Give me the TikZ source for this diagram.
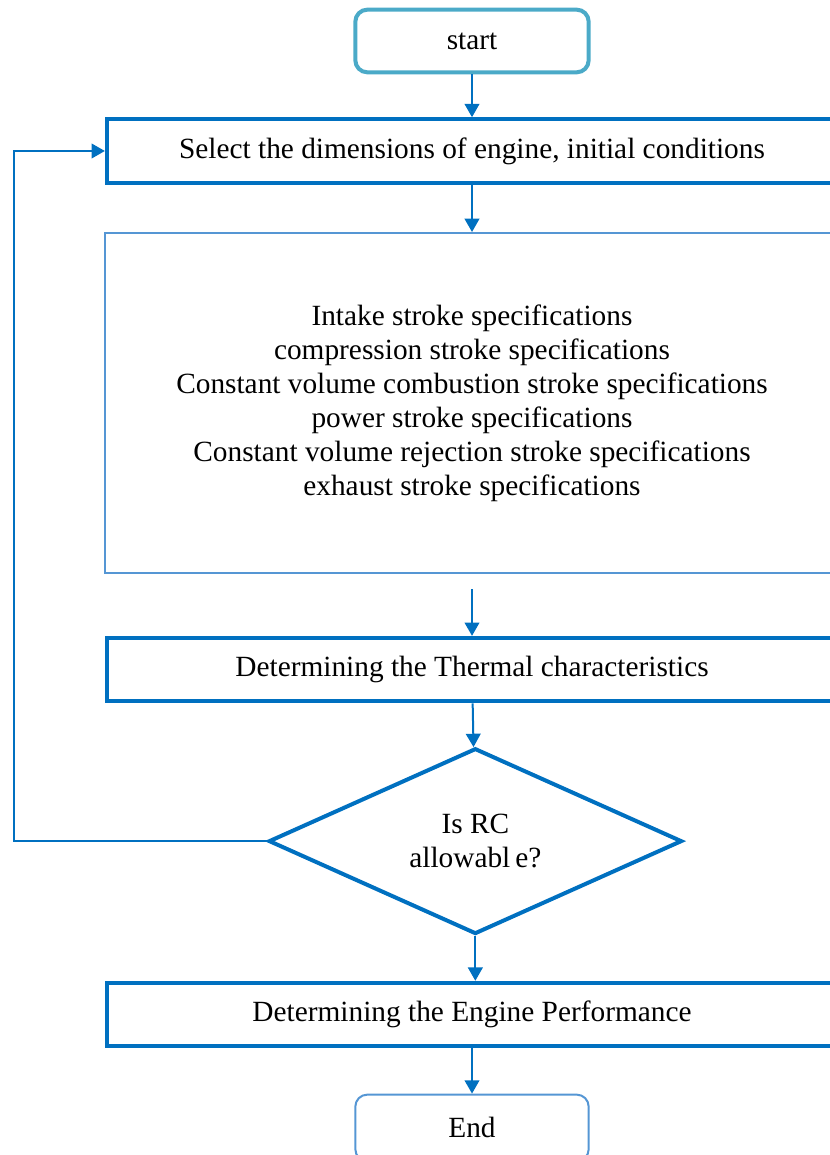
\documentclass[tikz,border=0pt]{standalone}
\usepackage{fontspec}
\setmainfont{Liberation Serif}
\usetikzlibrary{positioning, arrows.meta, shapes.geometric}
\definecolor{cB}{RGB}{0,112,192}
\definecolor{cL}{RGB}{85,150,212}
\definecolor{cA}{RGB}{75,170,200}

\begin{document}
\begin{tikzpicture}[on grid, >={Triangle[width=11pt,length=10pt]},
    font=\fontsize{22pt}{25.5pt}\selectfont,
    box/.style={rectangle, draw=cB, line width=3.2pt, minimum width=547.5pt, minimum height=47.5pt, inner sep=0pt},
    term/.style={rectangle, rounded corners=9pt, minimum width=175pt, minimum height=47pt, inner sep=0pt},
    flow/.style={->, draw=cB, line width=1.5pt}]
    \clip (0,0) rectangle (622.5pt,-866.25pt);

    % Nodes
    \node[term, draw=cA, line width=3pt] (start) at (354pt,-30.75pt) {start};
    \node[box] (select) [below=82.5pt of start] {Select the dimensions of engine, initial conditions};
    \node[rectangle, draw=cL, line width=1.5pt, minimum width=550pt, minimum height=255pt, align=center] (specs) [below=189pt of select]
        {Intake stroke specifications\\ compression stroke specifications\\ Constant volume combustion stroke specifications\\
         power stroke specifications\\ Constant volume rejection stroke specifications\\ exhaust stroke specifications};
    \node[box] (thermal) [below=200pt of specs] {Determining the Thermal characteristics};
    \node[diamond, draw=cB, line width=3pt, minimum width=310pt, minimum height=136.5pt, inner sep=0pt, align=center] (check) [below=128.6pt of thermal, xshift=2.5pt]
        {Is RC\\ allowabl\,e?};
    \node[box] (perf) [below=258.7pt of thermal] {Determining the Engine Performance};
    \node[term, draw=cL, line width=1.5pt, minimum height=50pt] (end) [below=85pt of perf] {End};

    % Coordinates for the loose ends
    \coordinate (back) at (10.5pt,0);
    \coordinate (gap) at ([yshift=-11.25pt]specs.south);

    % Main flow
    \draw[flow] (start) -- (select);
    \draw[flow] (select) -- (specs);
    \draw[flow] (gap) -- (thermal);
    \draw[flow] (thermal) -- (check);
    \draw[flow] (check) -- (check |- perf.north);
    \draw[flow] (perf) -- (end);

    % Back to the start when RC is not allowable
    \draw[flow] (check.west) -- (check.west -| back) |- (select.west);
\end{tikzpicture}
\end{document}
